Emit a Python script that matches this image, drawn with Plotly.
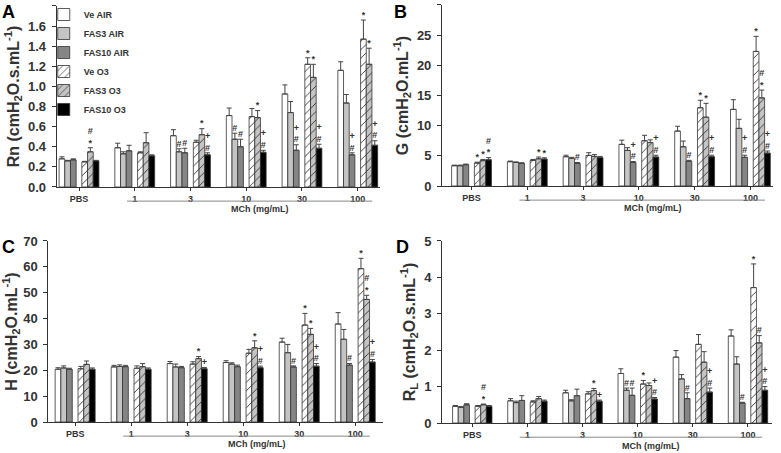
import plotly.graph_objects as go

# doses on the x axis and the six treatment groups
doses = ["PBS", "1", "3", "10", "30", "100"]
groups = ["Ve AIR", "FAS3 AIR", "FAS10 AIR", "Ve O3", "FAS3 O3", "FAS10 O3"]

# A - Rn (one row per group, one column per dose)
rn_mean = [
    [0.28, 0.39, 0.51, 0.71, 0.925, 1.16],
    [0.26, 0.33, 0.35, 0.475, 0.74, 0.835],
    [0.27, 0.36, 0.34, 0.40, 0.365, 0.32],
    [0.25, 0.34, 0.445, 0.70, 1.22, 1.47],
    [0.35, 0.44, 0.52, 0.69, 1.09, 1.22],
    [0.26, 0.31, 0.32, 0.345, 0.385, 0.415],
]
rn_sem = [
    [0.02, 0.045, 0.06, 0.075, 0.09, 0.085],
    [0.005, 0.02, 0.03, 0.06, 0.11, 0.085],
    [0.01, 0.055, 0.045, 0.075, 0.055, 0.02],
    [0.005, 0.01, 0.02, 0.08, 0.065, 0.19],
    [0.04, 0.10, 0.06, 0.07, 0.13, 0.16],
    [0.005, 0.01, 0.02, 0.02, 0.04, 0.045],
]
rn_sig = [
    ["", "", "", "", "", ""],
    ["", "", "#", "#", "", ""],
    ["", "", "#", "#", "+<br>#", "+<br>#"],
    ["", "", "", "", "*", "*"],
    ["#<br>*", "", "*", "*", "*", "*"],
    ["", "", "+<br>#", "+<br>#", "+<br>#", "+<br>#"],
]

# B - G
g_mean = [
    [3.36, 4.03, 4.85, 6.9, 9.1, 12.7],
    [3.36, 3.9, 4.6, 5.9, 6.5, 9.55],
    [3.53, 3.75, 3.75, 3.9, 4.1, 4.75],
    [3.8, 4.25, 5.07, 7.5, 12.96, 22.3],
    [4.2, 4.5, 4.9, 7.2, 11.4, 14.6],
    [4.35, 4.47, 4.7, 4.8, 4.85, 5.45],
]
g_sem = [
    [0.1, 0.1, 0.25, 0.7, 0.8, 1.6],
    [0.1, 0.1, 0.15, 0.45, 0.95, 1.5],
    [0.1, 0.1, 0.15, 0.15, 0.15, 0.35],
    [0.15, 0.15, 0.45, 0.9, 1.25, 2.5],
    [0.2, 0.3, 0.3, 0.45, 2.3, 1.3],
    [0.35, 0.2, 0.2, 0.3, 0.25, 0.35],
]
g_sig = [
    ["", "", "", "", "", ""],
    ["", "", "", "", "", ""],
    ["", "", "#", "+<br>#", "#", "+<br>#"],
    ["*", "", "", "", "*", "*"],
    ["*", "*", "", "", "*", "#<br>*"],
    ["#<br>*", "*", "", "+<br>#", "+<br>#", "+<br>#"],
]

# C - H
h_mean = [
    [20.4, 21.3, 22.6, 23.0, 30.9, 37.9],
    [20.9, 21.5, 21.3, 22.4, 26.8, 32.0],
    [20.4, 21.4, 21.0, 21.4, 21.3, 22.0],
    [20.6, 20.8, 22.4, 26.6, 37.5, 59.3],
    [22.3, 21.4, 24.5, 28.7, 33.9, 47.4],
    [20.4, 20.4, 20.6, 21.0, 21.6, 23.2],
]
h_sem = [
    [0.6, 0.6, 0.8, 0.7, 1.5, 4.4],
    [0.8, 0.6, 1.1, 0.5, 3.2, 3.8],
    [0.4, 0.5, 0.5, 0.6, 0.4, 0.6],
    [0.9, 0.9, 0.9, 1.5, 4.5, 4.0],
    [1.3, 1.2, 0.8, 2.7, 2.3, 1.6],
    [0.5, 0.5, 0.5, 0.6, 1.0, 1.0],
]
h_sig = [
    ["", "", "", "", "", ""],
    ["", "", "", "", "", ""],
    ["", "", "", "", "#", "#"],
    ["", "", "", "", "*", "*"],
    ["", "", "*", "*", "*", "#<br>*"],
    ["", "", "+", "+<br>#", "+<br>#", "+<br>#"],
]

# D - RL
rl_mean = [
    [0.46, 0.61, 0.83, 1.36, 1.81, 2.39],
    [0.43, 0.56, 0.61, 0.90, 1.21, 1.62],
    [0.50, 0.62, 0.75, 0.76, 0.67, 0.55],
    [0.46, 0.58, 0.80, 1.07, 2.16, 3.72],
    [0.50, 0.67, 0.89, 1.03, 1.67, 2.20],
    [0.46, 0.60, 0.60, 0.66, 0.85, 0.90],
]
rl_sem = [
    [0.02, 0.06, 0.07, 0.13, 0.18, 0.17],
    [0.02, 0.04, 0.03, 0.06, 0.12, 0.2],
    [0.03, 0.13, 0.18, 0.2, 0.16, 0.02],
    [0.02, 0.03, 0.06, 0.1, 0.27, 0.65],
    [0.02, 0.06, 0.06, 0.07, 0.29, 0.2],
    [0.02, 0.03, 0.03, 0.04, 0.11, 0.1],
]
rl_sig = [
    ["", "", "", "", "", ""],
    ["", "", "", "#", "", ""],
    ["", "", "", "#", "#", "#"],
    ["", "", "", "*", "", "*"],
    ["#<br>*", "", "*", "", "", "#"],
    ["", "", "+", "+<br>#", "+<br>#", "+<br>#"],
]

FONT = "Arial, Liberation Sans, sans-serif"
INK = "#333333"
FILL = ["white", "#c4c4c4", "#858585", "white", "#c4c4c4", "black"]
HATCH = ["", "", "", "/", "/", ""]
SLOT = [0, 1, 2, 4, 5, 6]   # empty slot 3 separates AIR from O3
W = 0.102

panels = [
    dict(ax="", mean=rn_mean, sem=rn_sem, sig=rn_sig, letter="A", lx=0.0, ly=1.0,
         title="Rn (cmH<sub>2</sub>O.s.mL<sup>-1</sup>)",
         xdom=[0.0726, 0.4866], ydom=[0.5872, 0.9868], xr=[-0.40, 5.40],
         yr=[0, 1.8], dtick=0.2, fmt=".1f"),
    dict(ax="2", mean=g_mean, sem=g_sem, sig=g_sig, letter="B", lx=0.5015, ly=1.0,
         title="G (cmH<sub>2</sub>O.mL<sup>-1</sup>)",
         xdom=[0.5659, 0.9894], ydom=[0.5894, 0.989], xr=[-0.53, 5.40],
         yr=[0, 30], dtick=5, fmt="d"),
    dict(ax="3", mean=h_mean, sem=h_sem, sig=h_sig, letter="C", lx=0.0, ly=0.482,
         title="H (cmH<sub>2</sub>O.mL<sup>-1</sup>)",
         xdom=[0.0618, 0.4900], ydom=[0.0684, 0.468], xr=[-0.48, 5.49],
         yr=[0, 70], dtick=10, fmt="d"),
    dict(ax="4", mean=rl_mean, sem=rl_sem, sig=rl_sig, letter="D", lx=0.505, ly=0.482,
         title="R<sub>L</sub> (cmH<sub>2</sub>O.s.mL<sup>-1</sup>)",
         xdom=[0.5659, 0.9881], ydom=[0.0662, 0.468], xr=[-0.55, 5.43],
         yr=[0, 5], dtick=1, fmt="d"),
]

fig = go.Figure()
layout = {}
shapes = []
annotations = []
pos = list(range(len(doses)))

for p, pan in enumerate(panels):
    xa, ya = "x" + pan["ax"], "y" + pan["ax"]
    for k, name in enumerate(groups):
        off = (SLOT[k] - 3) * W
        fig.add_trace(go.Bar(
            x=pos, y=pan["mean"][k], width=W, offset=off - W / 2,
            name=name, legendgroup=name, showlegend=(p == 0),
            marker=dict(color=FILL[k], line=dict(color=INK, width=0.8),
                        pattern=dict(shape=HATCH[k], fgcolor=INK, bgcolor=FILL[k],
                                     size=6, solidity=0.15)),
            error_y=dict(type="data", array=pan["sem"][k], arrayminus=[0] * 6,
                         symmetric=False, color="#444", thickness=1, width=2.5),
            xaxis=xa, yaxis=ya,
        ))
        # significance marks sit on top of the error bar
        marks = [(i + off, m + e, s) for i, m, e, s in
                 zip(pos, pan["mean"][k], pan["sem"][k], pan["sig"][k]) if s]
        if marks:
            fig.add_trace(go.Scatter(
                x=[t[0] for t in marks], y=[t[1] for t in marks],
                text=[t[2] for t in marks], mode="text", textposition="top center",
                textfont=dict(family=FONT, size=9, color=INK, weight="bold"),
                cliponaxis=False, showlegend=False, hoverinfo="skip",
                xaxis=xa, yaxis=ya,
            ))

    layout["xaxis" + pan["ax"]] = dict(
        domain=pan["xdom"], anchor=ya, range=pan["xr"], tickvals=pos, ticktext=doses,
        showline=True, linecolor=INK, linewidth=1, ticks="outside", ticklen=3,
        tickcolor=INK, showgrid=False, zeroline=False, automargin=False,
        tickfont=dict(family=FONT, size=9, color=INK, weight="bold"),
    )
    layout["yaxis" + pan["ax"]] = dict(
        domain=pan["ydom"], anchor=xa, range=pan["yr"], dtick=pan["dtick"],
        tickformat=pan["fmt"], showline=True, linecolor=INK, linewidth=1,
        ticks="outside", ticklen=4, tickcolor=INK, showgrid=False, zeroline=False,
        automargin=False, ticklabelstandoff=3,
        tickfont=dict(family=FONT, size=13, color=INK, weight="bold"),
        title=dict(text=pan["title"], standoff=4,
                   font=dict(family=FONT, size=16, color=INK, weight="bold")),
    )
    # bracket line under the MCh doses
    shapes.append(dict(type="line", xref=xa, yref=ya + " domain", x0=0.86, x1=5.26,
                       y0=-0.078, y1=-0.078, line=dict(color="#888", width=1)))
    annotations.append(dict(text="MCh (mg/mL)", xref=xa, yref=ya + " domain", x=3.25,
                            y=-0.124, showarrow=False, yanchor="middle",
                            font=dict(family=FONT, size=9, color=INK, weight="bold")))
    annotations.append(dict(text=pan["letter"], xref="paper", yref="paper", x=pan["lx"],
                            y=pan["ly"], xanchor="left", yanchor="top", showarrow=False,
                            font=dict(family=FONT, size=18, color="black", weight="bold")))

fig.update_layout(
    **layout,
    template="none",
    width=781, height=453,
    barmode="overlay",
    margin=dict(l=0, r=0, t=0, b=0),
    paper_bgcolor="white", plot_bgcolor="white",
    shapes=shapes, annotations=annotations,
    legend=dict(x=0.056, y=1.0, xanchor="left", yanchor="top",
                bgcolor="rgba(0,0,0,0)", tracegroupgap=0, itemwidth=30,
                font=dict(family=FONT, size=9, color=INK, weight="bold")),
)

# the page body has a default 8px margin; drop it so the figure fills the window
fig.write_html("out.html", config={"displayModeBar": False},
               post_script="document.body.style.margin = '0';")
